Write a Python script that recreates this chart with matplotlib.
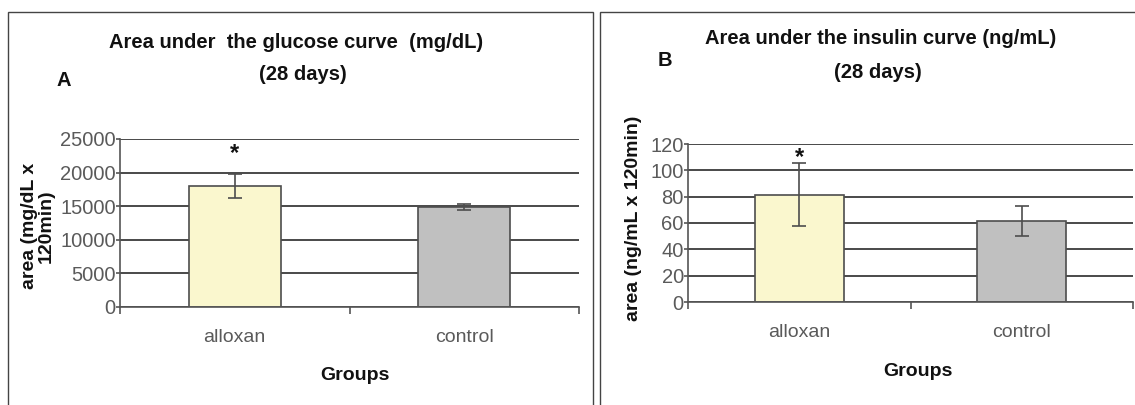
import matplotlib
matplotlib.use("Agg")
import matplotlib.pyplot as plt
from matplotlib.patches import Rectangle

plt.rcParams['font.family'] = ['Liberation Sans', 'DejaVu Sans']

categories = ["alloxan", "control"]
glucose_mean = [18000, 14900]
glucose_err = [1850, 500]
insulin_mean = [81.5, 61.6]
insulin_err = [24, 11.5]
glucose_ticks = [0, 5000, 10000, 15000, 20000, 25000]
insulin_ticks = [0, 20, 40, 60, 80, 100, 120]
significant = [True, False]
bar_colors = ["#FAF7CE", "#C0C0C0"]

W, H = 1135, 405
fig = plt.figure(figsize=(W / 100, H / 100), dpi=100)
fig.patch.set_facecolor("white")


def px(x, y):
    return x / W, 1 - y / H


def add_axes(x0, x1, ytop, ybot):
    return fig.add_axes([x0 / W, 1 - ybot / H, (x1 - x0) / W, (ybot - ytop) / H])


def style_axes(ax, means, errs, ticks, star_off):
    xs = list(range(len(categories)))
    ax.set_axisbelow(True)
    ax.bar(xs, means, width=0.4, color=bar_colors, edgecolor="#4d4d4d", linewidth=1.2, zorder=2)
    ax.errorbar(xs, means, yerr=errs, fmt="none", ecolor="#4d4d4d", elinewidth=1.2,
                capsize=5, capthick=1.2, zorder=3)
    for x, m, e, s in zip(xs, means, errs, significant):
        if s:
            ax.text(x, m + e + star_off, "*", ha="center", va="center",
                    fontsize=17, fontweight="bold", color="#111111")
    ax.set_xlim(-0.5, 1.5)
    ax.set_ylim(ticks[0], ticks[-1])
    ax.set_yticks(ticks)
    ax.set_yticklabels([str(t) for t in ticks])
    ax.yaxis.grid(True, color="#3a3a3a", linewidth=1.3)
    ax.set_xticks([-0.5, 0.5, 1.5])
    ax.set_xticklabels([])
    ax.set_xticks(xs, minor=True)
    ax.set_xticklabels(categories, minor=True)
    ax.tick_params(axis="x", which="major", direction="out", length=5, width=1.2, color="#555555")
    ax.tick_params(axis="x", which="minor", length=0, pad=16, labelsize=14, labelcolor="#5a5a5a")
    ax.tick_params(axis="y", direction="out", length=3, width=1.2, color="#555555",
                   labelsize=14.5, labelcolor="#5a5a5a", pad=0)
    for sp in ["top", "right"]:
        ax.spines[sp].set_visible(False)
    for sp in ["left", "bottom"]:
        ax.spines[sp].set_color("#555555")
        ax.spines[sp].set_linewidth(1.2)


# panel borders
fig.add_artist(Rectangle(px(8, 420), 585 / W, 408 / H, transform=fig.transFigure,
                         fill=False, edgecolor="#444444", linewidth=1.0))
fig.add_artist(Rectangle(px(600, 420), 600 / W, 408 / H, transform=fig.transFigure,
                         fill=False, edgecolor="#444444", linewidth=1.0))

ax1 = add_axes(120, 579, 139, 307)
style_axes(ax1, glucose_mean, glucose_err, glucose_ticks, 3000)
ax2 = add_axes(688, 1133, 144, 302)
style_axes(ax2, insulin_mean, insulin_err, insulin_ticks, 4.5)

tkw = dict(ha="center", va="center", fontweight="bold", fontsize=14.5, color="#111111")
fig.text(*px(296, 42), "Area under  the glucose curve  (mg/dL)", **tkw)
fig.text(*px(303, 75), "(28 days)", **tkw)
fig.text(*px(64, 80), "A", **tkw)
fig.text(*px(881, 38), "Area under the insulin curve (ng/mL)", **tkw)
fig.text(*px(878, 72), "(28 days)", **tkw)
fig.text(*px(665, 60), "B", **tkw)

lkw = dict(ha="center", va="center", fontweight="bold", fontsize=14, color="#111111")
fig.text(*px(38, 226), "area (mg/dL x\n120min)", rotation=90, multialignment="center",
         linespacing=1.0, **lkw)
fig.text(*px(634, 218), "area (ng/mL x 120min)", rotation=90, **lkw)
fig.text(*px(355, 375), "Groups", **lkw)
fig.text(*px(918, 372), "Groups", **lkw)

fig.savefig("out.png", dpi=100, facecolor="white")
